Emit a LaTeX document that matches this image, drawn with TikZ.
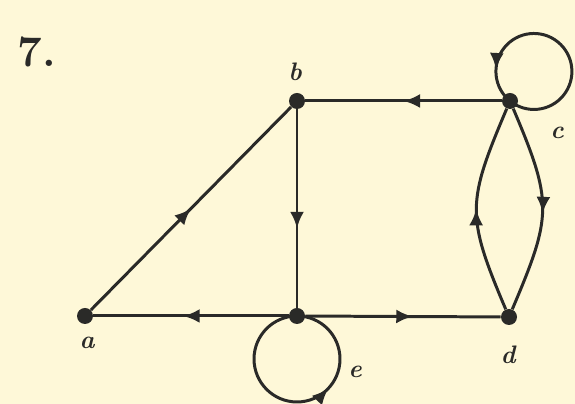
\documentclass[tikz,border=0pt]{standalone}
\usetikzlibrary{arrows.meta, decorations.markings}
\definecolor{paper}{HTML}{FEF8D8}
\definecolor{ink}{HTML}{2A2A28}
\tikzset{
  % dots for vertices, filled tips half way along each edge
  vtx/.style   = {circle, fill=ink, inner sep=0pt, minimum size=3.2mm},
  edge/.style  = {ink, line width=1.7pt},
  mid/.style   = {decoration={markings,
                   mark=at position #1 with {\arrow{Latex[length=3.3mm, width=2.8mm]}}},
                  postaction={decorate}},
  lbl/.style   = {font=\Large\bfseries\itshape, text=ink},
}
\begin{document}
\begin{tikzpicture}[x=0.02cm, y=0.02cm]
  \fill[paper] (0,0) rectangle (575,404);
  \useasboundingbox (0,0) rectangle (575,404);
  \node[font=\Huge\bfseries, text=ink] (num) at (37,352) {7.};
  % vertices
  \node[vtx] (a) at (85,88)   {};
  \node[vtx] (b) at (297,303) {};
  \node[vtx] (c) at (510,303) {};
  \node[vtx] (d) at (509,87)  {};
  \node[vtx] (e) at (297,88)  {};
  \node[lbl] (la) at (87,61)   {a};
  \node[lbl] (lb) at (295,332) {b};
  \node[lbl] (lc) at (557,271) {c};
  \node[lbl] (ld) at (508,49)  {d};
  \node[lbl] (le) at (355,32)  {e};
  % edges
  \draw[edge, mid=0.5]  (a) -- (b);
  \draw[edge, mid=0.5]  (c) -- (b);
  \draw[edge, mid=0.6]  (b) -- (e);
  \draw[edge, mid=0.54] (e) -- (a);
  \draw[edge, mid=0.55] (e) -- (d);
  \draw[edge, mid=0.5]  (d) to[out=113, in=-113, looseness=1.3] (c);
  \draw[edge, mid=0.52] (c) to[out=-67, in=67, looseness=1.3] (d);
  % loops
  \draw[edge, mid=0.63] (e.center) arc[start angle=90, end angle=450, radius=0.86cm];
  \draw[edge, mid=0.85] (c.center) arc[start angle=231, end angle=591, radius=0.76cm];
\end{tikzpicture}
\end{document}
